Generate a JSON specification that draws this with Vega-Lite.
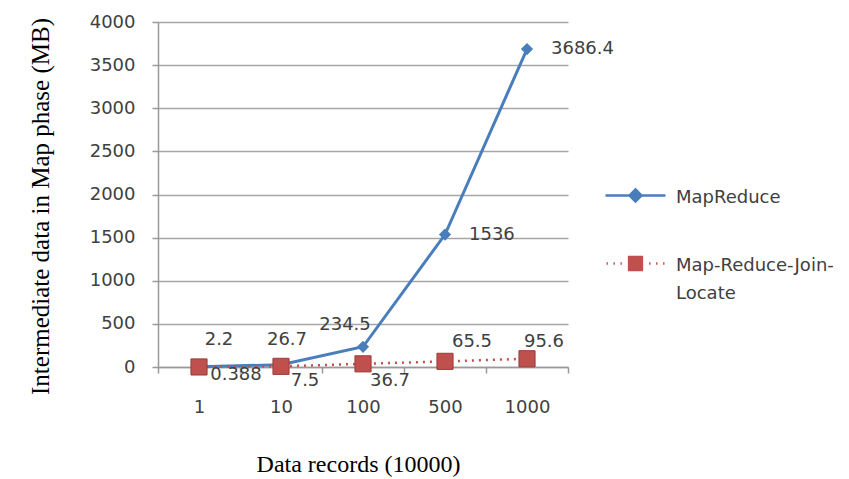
{
  "$schema": "https://vega.github.io/schema/vega-lite/v6.json",
  "width": 410,
  "height": 345,
  "autosize": {"type": "none"},
  "padding": {"left": 158, "top": 22, "right": 281, "bottom": 112},
  "background": "white",
  "data": {
    "values": [
      {"records": "1", "series": "MapReduce", "value": 2.2},
      {"records": "10", "series": "MapReduce", "value": 26.7},
      {"records": "100", "series": "MapReduce", "value": 234.5},
      {"records": "500", "series": "MapReduce", "value": 1536},
      {"records": "1000", "series": "MapReduce", "value": 3686.4},
      {"records": "1", "series": "Map-Reduce-Join-Locate", "value": 0.388},
      {"records": "10", "series": "Map-Reduce-Join-Locate", "value": 7.5},
      {"records": "100", "series": "Map-Reduce-Join-Locate", "value": 36.7},
      {"records": "500", "series": "Map-Reduce-Join-Locate", "value": 65.5},
      {"records": "1000", "series": "Map-Reduce-Join-Locate", "value": 95.6}
    ]
  },
  "encoding": {
    "x": {
      "field": "records", "type": "ordinal", "sort": ["1", "10", "100", "500", "1000"],
      "scale": {"type": "band", "paddingInner": 0, "paddingOuter": 0},
      "axis": {
        "title": "Data records (10000)", "titleFont": "Liberation Serif", "titleFontSize": 24, "titleFontWeight": "normal", "titleColor": "black",
        "titleX": 200, "titleY": 104, "titleBaseline": "alphabetic", "titleAlign": "center",
        "labelFont": "DejaVu Sans", "labelFontSize": 18, "labelColor": "#404040", "labelAngle": 0, "labelPadding": 25,
        "tickBand": "extent", "tickSize": 6, "tickColor": "#999999", "tickWidth": 1.5,
        "domainColor": "#999999", "domainWidth": 1.5, "grid": false
      }
    },
    "y": {
      "field": "value", "type": "quantitative",
      "scale": {"domain": [0, 4000], "nice": false},
      "axis": {
        "values": [0, 500, 1000, 1500, 2000, 2500, 3000, 3500, 4000], "format": "d",
        "title": "Intermediate data in Map phase (MB)", "titleFont": "Liberation Serif", "titleFontSize": 25, "titleFontWeight": "normal", "titleColor": "black",
        "titleX": -110, "titleY": 184, "titleAngle": 270, "titleBaseline": "alphabetic", "titleAlign": "center",
        "labelFont": "DejaVu Sans", "labelFontSize": 18, "labelColor": "#404040", "labelPadding": 17,
        "tickSize": 6, "tickColor": "#999999", "tickWidth": 1.5,
        "domainColor": "#999999", "domainWidth": 1.5,
        "grid": true, "gridColor": "#a6a6a6", "gridWidth": 1.5
      }
    },
    "color": {
      "field": "series", "type": "nominal",
      "scale": {"domain": ["MapReduce", "Map-Reduce-Join-Locate"], "range": ["#4A7EBB", "#C0504D"]},
      "legend": {
        "title": null, "orient": "none", "legendX": 456, "legendY": 152,
        "padding": 0, "labelFont": "DejaVu Sans", "labelFontSize": 18, "labelColor": "#404040",
        "labelOffset": 19, "labelBaseline": "alphabetic", "symbolSize": 1600, "symbolStrokeWidth": 2.5,
        "rowPadding": 35, "labelLimit": 300,
        "labelExpr": "datum.label == 'Map-Reduce-Join-Locate' ? ['Map-Reduce-Join-', 'Locate'] : datum.label",
        "encode": {
          "symbols": {"update": {
            "shape": {"signal": "datum.value == 'MapReduce' ? 'M-1.5,0L1.5,0M0,-0.3L0.3,0L0,0.3L-0.3,0Z' : 'M-1.45,0L-1.38,0M-1.1,0L-1.03,0M-0.75,0L-0.68,0M0.68,0L0.75,0M1.03,0L1.1,0M1.38,0L1.45,0M-0.32,-0.32L0.32,-0.32L0.32,0.32L-0.32,0.32Z'"},
            "fill": {"signal": "datum.value == 'MapReduce' ? '#4A7EBB' : '#C0504D'"},
            "stroke": {"signal": "datum.value == 'MapReduce' ? '#4A7EBB' : '#D46A66'"},
            "fillOpacity": {"value": 1},
            "strokeWidth": {"value": 2.5}
          }},
          "labels": {"update": {"dy": {"value": 7}, "lineHeight": {"value": 28}}}
        }
      }
    }
  },
  "layer": [
    {
      "transform": [{"filter": "datum.series == 'MapReduce'"}],
      "mark": {"type": "line", "strokeWidth": 3, "color": "#4A7EBB"}
    },
    {
      "transform": [{"filter": "datum.series == 'MapReduce'"}],
      "mark": {"type": "point", "shape": "diamond", "size": 150, "filled": true, "opacity": 1, "color": "#4A7EBB"}
    },
    {
      "transform": [{"filter": "datum.series == 'Map-Reduce-Join-Locate'"}],
      "mark": {"type": "line", "strokeWidth": 2.5, "strokeDash": [2, 5], "color": "#D46A66"}
    },
    {
      "transform": [{"filter": "datum.series == 'Map-Reduce-Join-Locate'"}],
      "mark": {"type": "point", "shape": "square", "size": 260, "filled": true, "opacity": 1, "color": "#C0504D", "stroke": "#9B3B38", "strokeWidth": 1}
    },
    {
      "transform": [{"filter": "datum.series == 'MapReduce'"}],
      "mark": {
        "type": "text", "font": "DejaVu Sans", "fontSize": 18, "color": "#404040", "baseline": "middle",
        "align": {"expr": "datum.records == '500' || datum.records == '1000' ? 'left' : 'center'"},
        "dx": {"expr": "datum.records == '1' ? 20 : datum.records == '10' ? 6 : datum.records == '100' ? -18 : 24"},
        "dy": {"expr": "datum.records == '1' ? -27 : datum.records == '10' ? -25 : datum.records == '100' ? -22 : 0"}
      },
      "encoding": {"text": {"field": "value", "type": "quantitative", "format": "~f"}, "color": {"value": "#404040"}}
    },
    {
      "transform": [{"filter": "datum.series == 'Map-Reduce-Join-Locate'"}],
      "mark": {
        "type": "text", "font": "DejaVu Sans", "fontSize": 18, "color": "#404040", "baseline": "middle", "align": "center",
        "dx": {"expr": "datum.records == '1' ? 37 : datum.records == '10' ? 24 : datum.records == '100' ? 27 : datum.records == '500' ? 27 : 17"},
        "dy": {"expr": "datum.records == '1' ? 8 : datum.records == '10' ? 15 : datum.records == '100' ? 17 : datum.records == '500' ? -19 : -17"}
      },
      "encoding": {"text": {"field": "value", "type": "quantitative", "format": "~f"}, "color": {"value": "#404040"}}
    }
  ],
  "config": {"view": {"stroke": null}}
}
